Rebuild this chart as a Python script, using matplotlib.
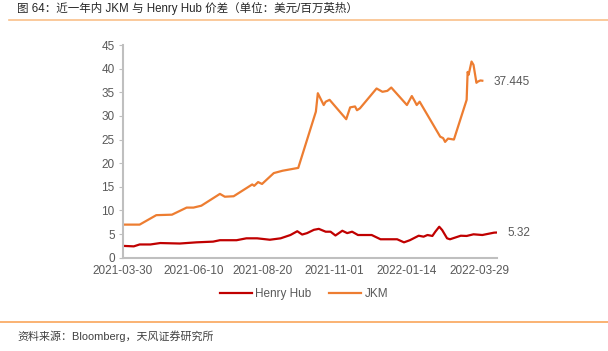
import matplotlib
matplotlib.use("Agg")
import matplotlib.pyplot as plt
import matplotlib.dates as mdates
import pandas as pd
from matplotlib.lines import Line2D

plt.rcParams['font.family'] = ['Liberation Sans', 'Noto Sans CJK SC', 'DejaVu Sans']

jkm_dates = ["2021-04-01", "2021-04-16", "2021-05-03", "2021-05-19", "2021-06-03", "2021-06-10",
             "2021-06-18", "2021-07-07", "2021-07-12", "2021-07-21", "2021-08-09", "2021-08-11",
             "2021-08-15", "2021-08-19", "2021-08-31", "2021-09-09", "2021-09-17", "2021-09-25",
             "2021-10-13", "2021-10-15", "2021-10-21", "2021-10-23", "2021-10-27", "2021-11-13",
             "2021-11-17", "2021-11-22", "2021-11-24", "2021-11-27", "2021-12-14", "2021-12-20",
             "2021-12-25", "2021-12-29", "2022-01-14", "2022-01-19", "2022-01-22", "2022-01-24",
             "2022-01-27", "2022-02-17", "2022-02-20", "2022-02-22", "2022-02-25", "2022-03-03",
             "2022-03-16", "2022-03-17", "2022-03-18", "2022-03-21", "2022-03-23", "2022-03-26",
             "2022-03-27", "2022-03-30", "2022-04-01"]
jkm_values = [7.0, 7.0, 9.0, 9.1, 10.6, 10.6,
              11.0, 13.5, 12.9, 13.0, 15.5, 15.2,
              16.0, 15.6, 17.9, 18.4, 18.7, 19.0,
              30.9, 34.8, 32.3, 33.0, 33.4, 29.3,
              31.8, 32.0, 31.2, 31.6, 35.8, 35.1,
              35.3, 36.0, 32.3, 34.2, 33.1, 32.3,
              33.0, 25.6, 25.3, 24.5, 25.2, 25.0,
              33.4, 39.3, 38.7, 41.5, 40.8, 37.0,
              37.2, 37.5, 37.445]

hh_dates = ["2021-03-30", "2021-04-10", "2021-04-16", "2021-04-27", "2021-05-07", "2021-05-27",
            "2021-06-13", "2021-06-30", "2021-07-07", "2021-07-24", "2021-08-03", "2021-08-14",
            "2021-08-27", "2021-09-07", "2021-09-17", "2021-09-24", "2021-09-29", "2021-10-04",
            "2021-10-11", "2021-10-16", "2021-10-23", "2021-10-28", "2021-11-02", "2021-11-09",
            "2021-11-14", "2021-11-19", "2021-11-25", "2021-12-09", "2021-12-18", "2022-01-04",
            "2022-01-11", "2022-01-17", "2022-01-26", "2022-01-31", "2022-02-04", "2022-02-09",
            "2022-02-12", "2022-02-16", "2022-02-19", "2022-02-24", "2022-02-27", "2022-03-10",
            "2022-03-16", "2022-03-23", "2022-04-01", "2022-04-13", "2022-04-15"]
hh_values = [2.5, 2.4, 2.8, 2.8, 3.1, 3.0,
             3.25, 3.4, 3.7, 3.7, 4.1, 4.1,
             3.8, 4.1, 4.8, 5.6, 4.9, 5.2,
             5.9, 6.1, 5.5, 5.5, 4.7, 5.7,
             5.2, 5.5, 4.8, 4.8, 3.9, 3.9,
             3.25, 3.7, 4.65, 4.45, 4.8, 4.6,
             5.5, 6.55, 5.85, 4.1, 3.9, 4.65,
             4.6, 4.95, 4.8, 5.3, 5.32]

tick_dates = ["2021-03-30", "2021-06-10", "2021-08-20", "2021-11-01", "2022-01-14", "2022-03-29"]
y_ticks = [0, 5, 10, 15, 20, 25, 30, 35, 40, 45]

series_names = ["Henry Hub", "JKM"]
colors = ["#C00000", "#ED7D31"]

title = "图 64：近一年内 JKM 与 Henry Hub 价差（单位：美元/百万英热）"
source = "资料来源：Bloomberg，天风证券研究所"

fig = plt.figure(figsize=(6.08, 3.51), dpi=100)
ax = fig.add_axes([123/608, 1-257.7/351, (497-123)/608, (257.7-45)/351])

jd = pd.to_datetime(jkm_dates)
hd = pd.to_datetime(hh_dates)
ax.plot(hd, hh_values, color=colors[0], lw=1.6, solid_joinstyle='round')
ax.plot(jd, jkm_values, color=colors[1], lw=1.6, solid_joinstyle='round')

ax.set_xlim(pd.Timestamp("2021-03-30"), pd.Timestamp("2022-04-16"))
ax.set_ylim(0, 45)
ax.set_yticks(y_ticks)
ax.set_xticks(pd.to_datetime(tick_dates))
ax.set_xticklabels(tick_dates)

gray = "#BFBFBF"
for s in ["top", "right"]:
    ax.spines[s].set_visible(False)
for s in ["left", "bottom"]:
    ax.spines[s].set_color(gray)
    ax.spines[s].set_linewidth(1.5)
ax.tick_params(axis='y', length=3, color=gray, labelcolor="#595959", labelsize=8.5, pad=3)
ax.tick_params(axis='x', length=0, labelcolor="#595959", labelsize=8.5, pad=5)

ax.annotate(f"{jkm_values[-1]:.3f}", xy=(jd[-1], jkm_values[-1]), xytext=(8, -1),
            textcoords='offset points', va='center', ha='left', color="#595959", fontsize=8.5)
ax.annotate(f"{hh_values[-1]:.2f}", xy=(hd[-1], hh_values[-1]), xytext=(8, 0),
            textcoords='offset points', va='center', ha='left', color="#595959", fontsize=8.5)

handles = [Line2D([], [], color=c, lw=1.6) for c in colors]
fig.legend(handles, series_names, loc='center', bbox_to_anchor=(0.5, 1-294/351), ncol=2,
           frameon=False, fontsize=8.5, labelcolor="#595959", handlelength=2.7,
           handletextpad=0.3, columnspacing=1.5)

fig.text(17/608, 1-8.5/351, title, fontsize=8.3, color="#262626", va='center', ha='left',
         family=['Liberation Sans', 'Noto Sans CJK SC'])
fig.add_artist(Line2D([9/608, 1], [1-19.5/351, 1-19.5/351], color="#F9C08A", lw=1.2))
fig.add_artist(Line2D([0, 1], [1-321.7/351, 1-321.7/351], color="#F9A65A", lw=1.2))
fig.text(17/608, 1-336.5/351, source, fontsize=7.9, color="#404040", va='center', ha='left',
         family=['Liberation Sans', 'Noto Sans CJK SC'])

fig.savefig("out.png", dpi=100)
